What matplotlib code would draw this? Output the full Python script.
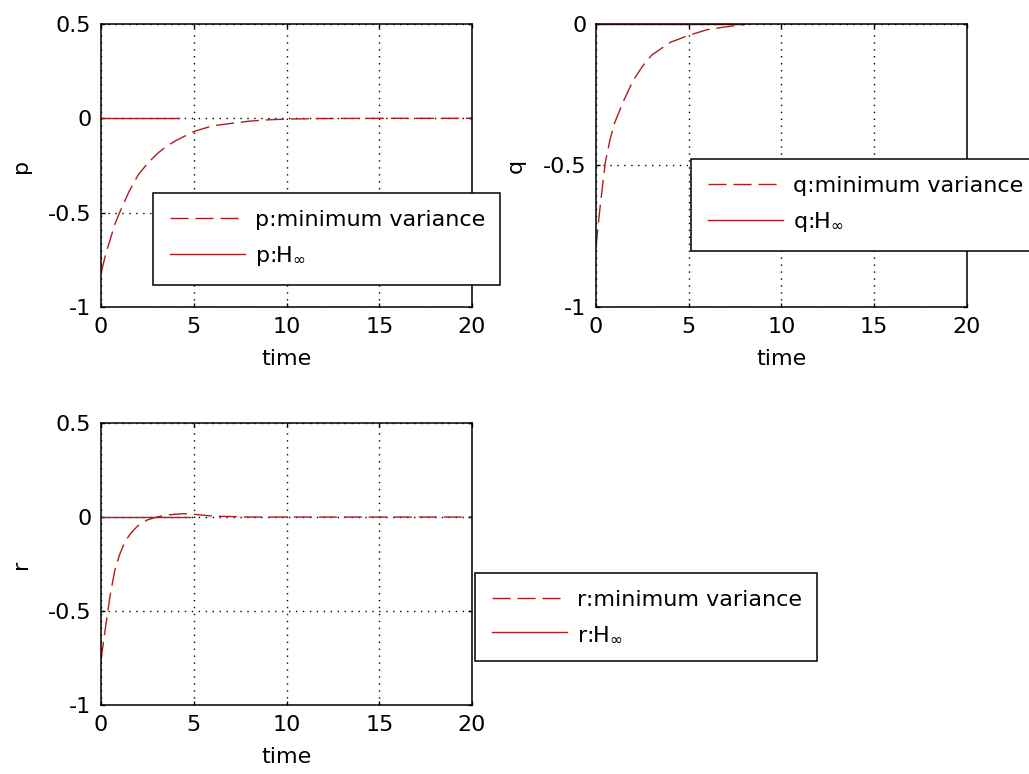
import matplotlib
matplotlib.use('Agg')
import matplotlib.pyplot as plt

# p channel
t_p = [0, 0.25, 0.5, 0.75, 1, 1.5, 2, 2.5, 3, 3.5, 4, 5, 6, 7, 8, 9, 10, 12, 15, 20]
p_mv = [-0.82, -0.72, -0.64, -0.56, -0.50, -0.39, -0.30, -0.24, -0.19, -0.15, -0.12,
        -0.07, -0.04, -0.027, -0.015, -0.008, -0.004, -0.001, 0, 0]
t_p_h = [0, 4.2]
p_h = [0, 0]

# q channel
t_q = [0, 0.1, 0.25, 0.5, 0.75, 1, 1.5, 2, 2.5, 3, 4, 5, 6, 7, 8]
q_mv = [-0.79, -0.72, -0.63, -0.49, -0.41, -0.35, -0.27, -0.20, -0.15, -0.11,
        -0.065, -0.04, -0.02, -0.01, -0.002]
t_q_h = [0, 8]
q_h = [0, 0]

# r channel
t_r = [0, 0.25, 0.5, 0.75, 1, 1.25, 1.5, 1.75, 2, 2.5, 3, 3.5, 4, 4.5, 5, 6, 8, 10, 15, 20]
r_mv = [-0.76, -0.58, -0.41, -0.28, -0.20, -0.14, -0.10, -0.07, -0.045, -0.015, 0.0,
        0.01, 0.015, 0.018, 0.015, 0.005, 0, 0, 0, 0]
t_r_h = [0, 4.8]
r_h = [0, 0]

x_ticks = [0, 5, 10, 15, 20]
x_ticklabels = ['0', '5', '10', '15', '20']
y_ticks_long = [-1, -0.5, 0, 0.5]
y_ticklabels_long = ['-1', '-0.5', '0', '0.5']
y_ticks_short = [-1, -0.5, 0]
y_ticklabels_short = ['-1', '-0.5', '0']

line_color = '#b01c1c'
dash_style = (13, 5)

plt.rcParams['font.family'] = ['DejaVu Sans']
plt.rcParams['font.size'] = 16
plt.rcParams['axes.unicode_minus'] = False
plt.rcParams['mathtext.fontset'] = 'dejavusans'

fig = plt.figure(figsize=(10.29, 7.74), dpi=100)


def setup_axes(ax, yticks, yticklabels, ylim, name):
    """Matlab-ish boxed axes with dotted grid."""
    ax.set_xlim(0, 20)
    ax.set_ylim(*ylim)
    ax.set_xticks(x_ticks)
    ax.set_xticklabels(x_ticklabels)
    ax.set_yticks(yticks)
    ax.set_yticklabels(yticklabels)
    ax.tick_params(direction='in', length=3, width=1, top=True, right=True, pad=7)
    ax.grid(True, color='black', linestyle=(0, (1, 4)), linewidth=1)
    for s in ax.spines.values():
        s.set_linewidth(1.1)
    ax.set_xlabel('time', labelpad=9)
    ax.set_ylabel(name, labelpad=12)


def add_legend(ax, x0, top, w):
    # box pinned by its top-left corner, width fixed
    leg = ax.legend(loc='upper left', bbox_to_anchor=(x0, top - 0.01, w, 0.01),
                    bbox_transform=fig.transFigure, mode='expand', borderaxespad=0,
                    fancybox=False, framealpha=1, edgecolor='black',
                    handlelength=3.4, handletextpad=0.45, borderpad=0.75,
                    labelspacing=0.65, fontsize=16)
    leg.get_frame().set_linewidth(1.1)


ax1 = fig.add_axes([0.0982, 0.6034, 0.3605, 0.3656])
ax1.plot(t_p, p_mv, color=line_color, linewidth=1, dashes=dash_style, label='p:minimum variance')
ax1.plot(t_p_h, p_h, color=line_color, linewidth=1, label='p:H$_{\\infty}$')
setup_axes(ax1, y_ticks_long, y_ticklabels_long, (-1, 0.5), 'p')
add_legend(ax1, 0.1487, 0.7506, 0.3372)

ax2 = fig.add_axes([0.5792, 0.6034, 0.3605, 0.3656])
ax2.plot(t_q, q_mv, color=line_color, linewidth=1, dashes=dash_style, label='q:minimum variance')
ax2.plot(t_q_h, q_h, color=line_color, linewidth=1, label='q:H$_{\\infty}$')
setup_axes(ax2, y_ticks_short, y_ticklabels_short, (-1, 0), 'q')
add_legend(ax2, 0.6715, 0.7946, 0.339)

ax3 = fig.add_axes([0.0982, 0.0891, 0.3605, 0.3643])
ax3.plot(t_r, r_mv, color=line_color, linewidth=1, dashes=dash_style, label='r:minimum variance')
ax3.plot(t_r_h, r_h, color=line_color, linewidth=1, label='r:H$_{\\infty}$')
setup_axes(ax3, y_ticks_long, y_ticklabels_long, (-1, 0.5), 'r')
add_legend(ax3, 0.4616, 0.2597, 0.3324)

fig.savefig('out.png', dpi=100)
